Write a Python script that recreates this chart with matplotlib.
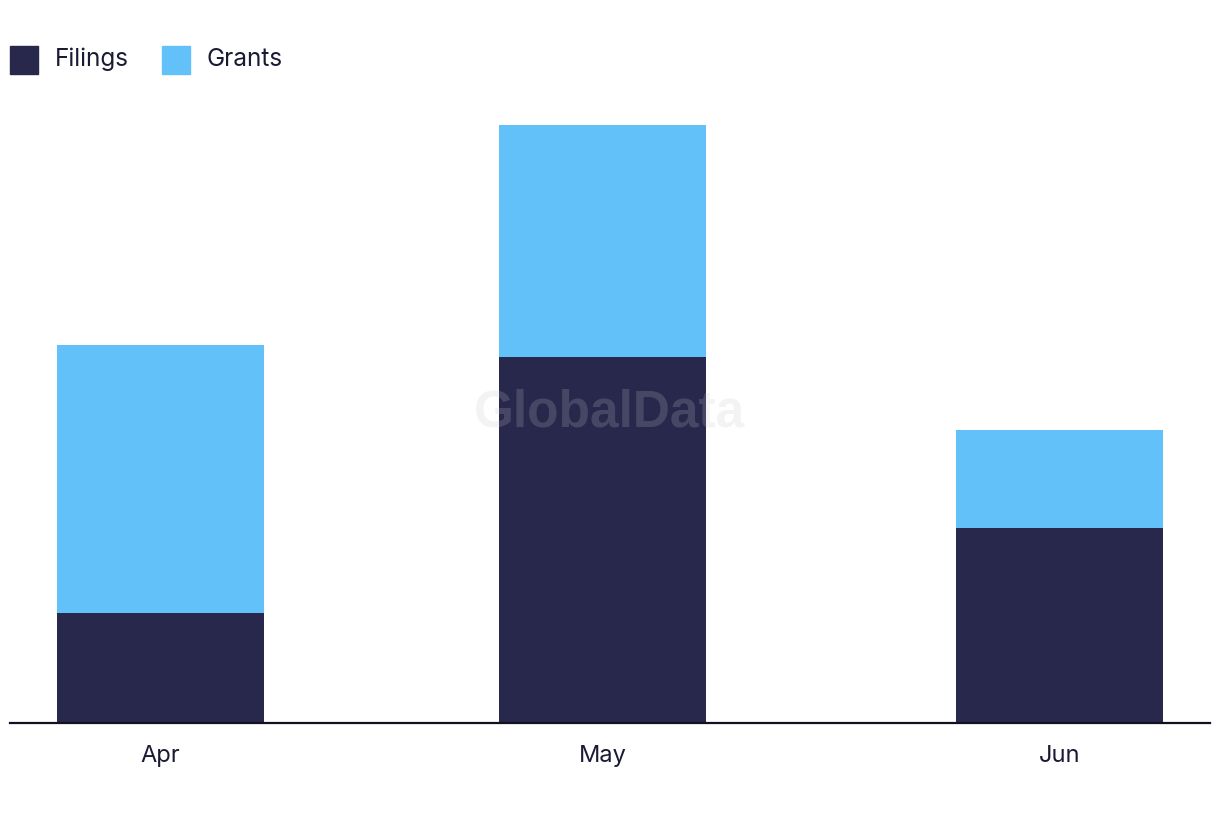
import matplotlib
matplotlib.use('Agg')
import matplotlib.pyplot as plt
from matplotlib.patches import Rectangle

months = ['Apr', 'May', 'Jun']
day_pos = [0, 30, 61]          # days from 1 Apr (bars sit on a date axis)
filings = [9, 30, 16]
grants = [22, 19, 8]

navy = '#28284c'
blue = '#62c1f9'
txt = '#1a1a33'

plt.rcParams['font.family'] = ['Inter', 'DejaVu Sans']

W, H = 1220, 822
fig = plt.figure(figsize=(W / 100, H / 100), dpi=100)
ax = fig.add_axes([10 / W, 1 - 723 / H, 1200 / W, (723 - 100) / H])

ax.bar(day_pos, filings, width=14.05, color=navy, label='Filings')
ax.bar(day_pos, grants, width=14.05, bottom=filings, color=blue, label='Grants')

ax.set_xlim(-10.2, 71.2)
ax.set_ylim(0, (723 - 100) / 12.2)
ax.set_xticks(day_pos)
ax.set_xticklabels(months, fontsize=17, color=txt)
ax.tick_params(axis='x', length=0, pad=16)
ax.set_yticks([])
for s in ['top', 'right', 'left']:
    ax.spines[s].set_visible(False)
ax.spines['bottom'].set_color('#111122')
ax.spines['bottom'].set_linewidth(1.6)

# watermark
fig.text(610 / W, 1 - 413 / H, 'GlobalData', fontsize=37, fontweight='bold',
         color=(0.78, 0.78, 0.8), alpha=0.2, ha='center', va='center',
         family=['Liberation Sans', 'DejaVu Sans'])

# legend drawn by hand
for x0, lab, c in [(10, 'Filings', navy), (162, 'Grants', blue)]:
    fig.add_artist(Rectangle((x0 / W, 1 - 74 / H), 28 / W, 28 / H,
                             transform=fig.transFigure, color=c))
    fig.text((x0 + 45) / W, 1 - 59 / H, lab, fontsize=17.5, color=txt,
             ha='left', va='center')

fig.savefig('out.png', dpi=100)
